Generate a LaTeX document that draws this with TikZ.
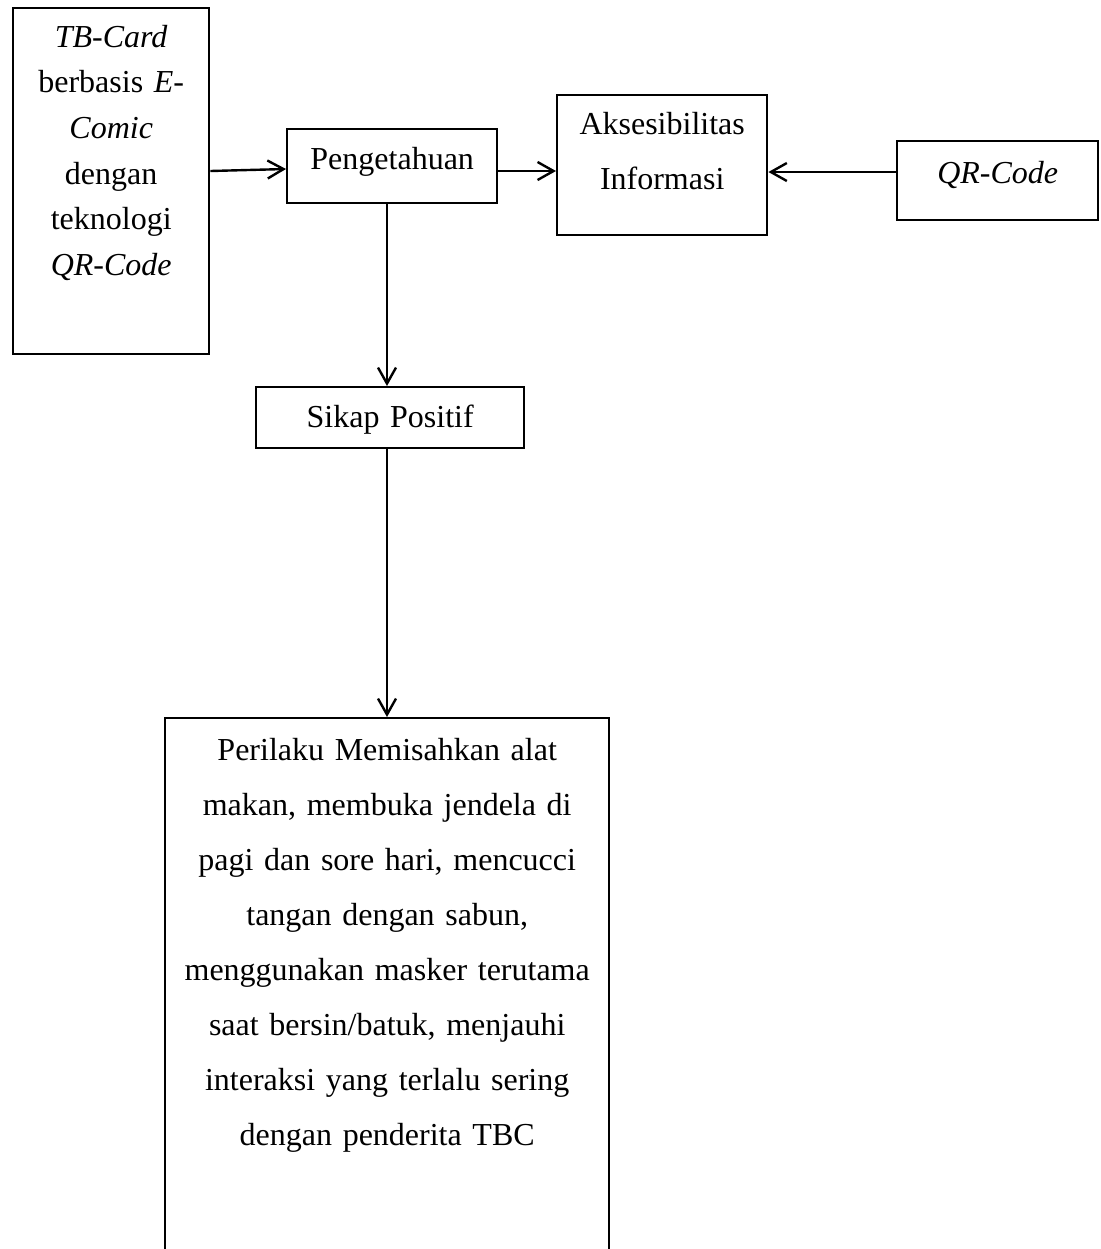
\documentclass[tikz,border=0pt]{standalone}
\usepackage{fontspec}
\setmainfont{Liberation Serif}
\usepackage{tikz}
\usetikzlibrary{arrows.meta}

\begin{document}
\begin{tikzpicture}[x=0.5pt, y=-0.5pt,
      box/.style={draw, line width=1.2pt, anchor=north west, inner sep=0pt, align=center,
        text height=20pt, font=\fontsize{16}{27.5}\selectfont},
          wide box/.style={box, text width=105pt},
      link/.style={->, line width=1.2pt},
      >={Straight Barb[length=8pt, width=9pt]},
      ]
        \path[use as bounding box, clip] (0,0) rectangle (1100,1249);

        \node[box, text width=98pt, text height=19.5pt, text depth=153.5pt,
              font=\fontsize{16}{22.8}\selectfont] (card) at (12,7)
              {\textit{TB-Card}\\ berbasis \textit{E-}\\ \textit{Comic}\\ dengan\\ teknologi\\ \textit{QR-Code}};

        \node[wide box, text depth=17pt] (tahu) at (286,128) {Pengetahuan};
        \node[wide box, text height=19.5pt, text depth=50.5pt] (akses) at (556,94)
              {Aksesibilitas\\ Informasi};
        \node[box, text width=100.5pt, text height=21pt, text depth=18.5pt] (qr) at (896,140)
              {\textit{QR-Code}};

        \node[box, text width=134pt, text depth=10.5pt] (sikap) at (255,386) {Sikap Positif};

        \node[box, text width=222pt, text height=21pt, text depth=256pt] (laku) at (164,717)
              {Perilaku Memisahkan alat\\
               makan, membuka jendela di\\
               pagi dan sore hari, mencucci\\
               tangan dengan sabun,\\
               menggunakan masker terutama\\
               saat bersin/batuk, menjauhi\\
               interaksi yang terlalu sering\\
               dengan penderita TBC};

        \draw[link] (card.east |- 0,171) -- (tahu.west |- 0,169);
        \draw[link] (tahu.east |- 0,171) -- (akses.west |- 0,171);
        \draw[link] (qr.west |- 0,172) -- (akses.east |- 0,172);

        \foreach \source/\target in {tahu/sikap, sikap/laku}
          \draw[link] (\source.south -| 387,0) -- (\target.north -| 387,0);

        \end{tikzpicture}
\end{document}
